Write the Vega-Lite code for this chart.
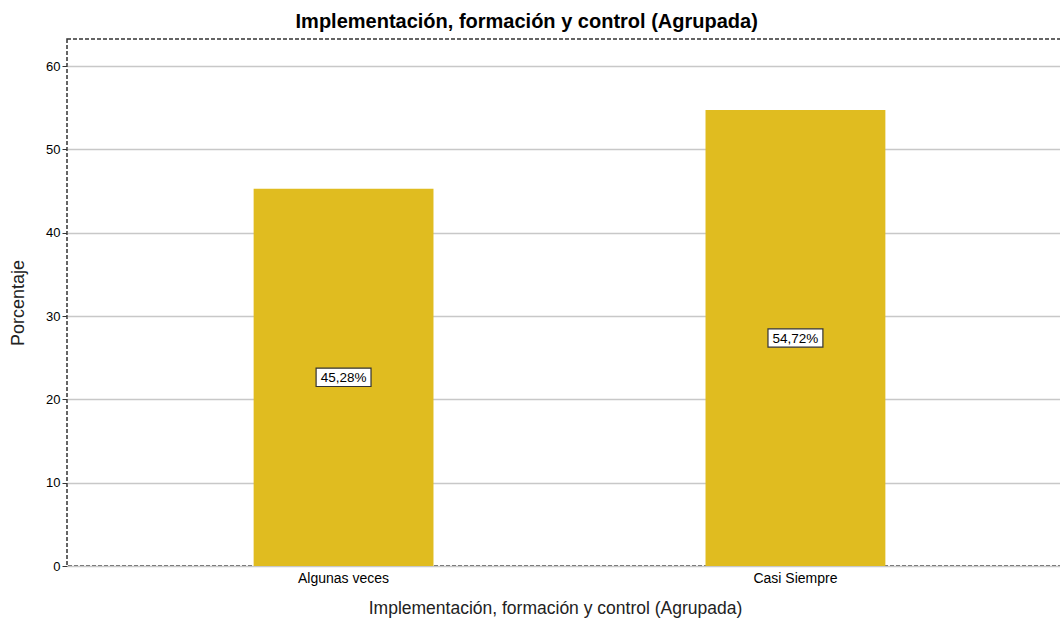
{
  "$schema": "https://vega.github.io/schema/vega-lite/v6.json",
  "width": 1005,
  "height": 527,
  "autosize": {"type": "none"},
  "padding": {"left": 67, "top": 39, "right": 0, "bottom": 57},
  "background": "white",
  "config": {
    "font": "Liberation Sans",
    "view": {"stroke": "#333333", "strokeDash": [4, 2], "strokeWidth": 1.5}
  },
  "title": {
    "text": "Implementación, formación y control (Agrupada)",
    "fontSize": 20,
    "fontWeight": "bold",
    "font": "Liberation Sans",
    "color": "#000000",
    "anchor": "start",
    "dx": 286,
    "offset": 7
  },
  "data": {
    "values": [
      {"categoria": "Algunas veces", "pct": 45.28, "label": "45,28%"},
      {"categoria": "Casi Siempre", "pct": 54.72, "label": "54,72%"}
    ]
  },
  "encoding": {
    "x": {
      "field": "categoria",
      "type": "nominal",
      "sort": null,
      "scale": {"paddingInner": 0.602, "paddingOuter": 0.413},
      "axis": {
        "title": "Implementación, formación y control (Agrupada)",
        "titleFontSize": 17.5,
        "titleFontWeight": "normal",
        "titleColor": "#222222",
        "titlePadding": 14,
        "titleX": 488,
        "labelAngle": 0,
        "labelFontSize": 14,
        "labelColor": "#000000",
        "labelPadding": 5,
        "ticks": false,
        "domain": false
      }
    }
  },
  "resolve": {"scale": {"y": "independent"}},
  "layer": [
    {
      "mark": {"type": "bar", "color": "#E0BC20"},
      "encoding": {
        "y": {
          "field": "pct",
          "type": "quantitative",
          "scale": {"domain": [0, 63.24], "nice": false},
          "axis": {
            "title": "Porcentaje",
            "titleFontSize": 18,
            "titleFontWeight": "normal",
            "titleColor": "#222222",
            "titlePadding": 18,
            "values": [0, 10, 20, 30, 40, 50, 60],
            "labelFontSize": 13,
            "labelColor": "#000000",
            "tickColor": "#333333",
            "tickSize": 5,
            "domain": false,
            "grid": true,
            "gridColor": "#c8c8c8",
            "gridWidth": 1.5
          }
        }
      }
    },
    {
      "encoding": {
        "y": {
          "field": "pct",
          "type": "quantitative",
          "scale": {"domain": [0, 126.48], "nice": false, "zero": true},
          "axis": null
        }
      },
      "layer": [
        {
          "mark": {
            "type": "point",
            "shape": "M-1.5,-0.5H1.5V0.5H-1.5Z",
            "size": 1340,
            "filled": true,
            "fill": "white",
            "stroke": "#333333",
            "strokeWidth": 1.2,
            "opacity": 1
          }
        },
        {
          "mark": {"type": "text", "fontSize": 13.5, "color": "#000000", "baseline": "middle", "align": "center", "dy": 1},
          "encoding": {"text": {"field": "label"}}
        }
      ]
    }
  ]
}
